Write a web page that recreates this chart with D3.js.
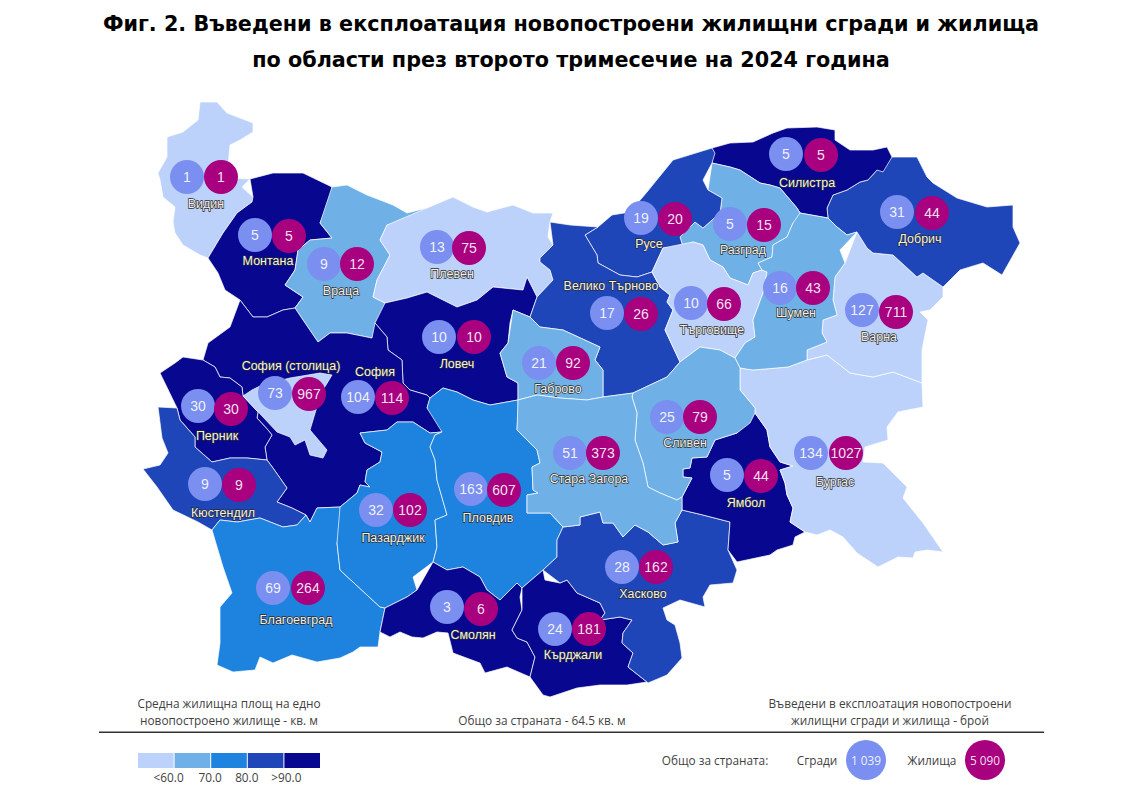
<!DOCTYPE html>
<html><head><meta charset="utf-8">
<script src="https://cdn.jsdelivr.net/npm/d3@7"></script>
<style>html,body{margin:0;padding:0;background:#fff}svg{display:block}</style>
</head><body><svg id="c" width="1145" height="795"></svg>
<script>
const titleLines=["Фиг. 2. Въведени в експлоатация новопостроени жилищни сгради и жилища","по области през второто тримесечие на 2024 година"];
const regionNames=["Видин","Монтана","Враца","Плевен","Ловеч","София","Перник","Кюстендил","Благоевград","Пазарджик","Пловдив","Смолян","Кърджали","Хасково","Ямбол","Бургас","Варна","Добрич","Силистра","Разград","Русе","Велико Търново","Габрово","Търговище","Шумен","Сливен","Стара Загора","София (столица)"];
const buildings=[1,5,9,13,10,104,30,9,69,32,163,3,24,28,5,134,127,31,5,5,19,17,21,10,16,25,51,73];
const dwellings=[1,5,12,75,10,114,30,9,264,102,607,6,181,162,44,1027,711,44,5,15,20,26,92,66,43,79,373,967];
const areaClass=[0,4,1,0,4,4,4,3,2,2,2,4,4,3,4,0,0,3,4,1,3,3,1,0,1,1,1,0];
const classColors=["#BCD2FA","#6FB0E6","#1E82DF","#1E46B9","#07088F"];
const legendTicks=["<60.0","70.0","80.0",">90.0"];
const outlines=[
[[200,102],[217,102],[227,113],[240,118],[253,123],[253,132],[240,140],[230,145],[227,178],[250,179],[242,187],[253,197],[252,202],[237,213],[223,233],[217,243],[208,258],[200,255],[183,245],[175,233],[173,222],[175,207],[163,197],[160,180],[158,173],[167,157],[167,137],[183,132],[198,120],[197,110]],
[[250,179],[273,173],[303,173],[332,187],[332,197],[320,223],[332,238],[310,240],[298,250],[295,270],[285,285],[303,297],[295,308],[283,310],[267,317],[253,317],[240,300],[225,290],[218,273],[208,258],[217,243],[223,233],[237,213],[252,202],[253,197],[242,187]],
[[332,187],[347,185],[367,195],[393,205],[407,213],[427,208],[425,217],[387,225],[380,240],[390,255],[377,280],[373,297],[385,303],[383,323],[372,338],[347,333],[330,333],[318,342],[303,320],[295,308],[303,297],[285,285],[295,270],[298,250],[310,240],[332,238],[320,223],[332,197]],
[[427,208],[453,197],[473,207],[487,212],[513,205],[533,213],[540,213],[553,213],[550,222],[548,237],[553,245],[540,258],[540,262],[550,270],[553,280],[537,297],[527,277],[523,290],[493,287],[477,300],[457,307],[437,297],[427,292],[407,298],[385,303],[373,297],[377,280],[390,255],[380,240],[387,225],[425,217]],
[[385,303],[407,298],[427,292],[437,297],[457,307],[477,300],[493,287],[523,290],[527,277],[537,297],[530,317],[513,310],[510,323],[508,343],[500,353],[507,377],[518,383],[518,400],[490,405],[473,400],[457,392],[443,388],[430,398],[427,395],[410,390],[403,383],[402,360],[388,350],[387,337],[375,323],[383,323]],
[[240,300],[253,317],[267,317],[283,310],[295,308],[303,320],[318,342],[330,333],[347,333],[372,338],[375,323],[387,337],[388,350],[402,360],[403,383],[410,390],[427,395],[430,398],[427,408],[440,423],[442,432],[430,433],[413,422],[397,422],[387,430],[360,433],[365,443],[382,452],[380,462],[367,470],[365,482],[370,487],[360,485],[357,493],[340,507],[317,508],[310,522],[306,515],[292,508],[277,502],[287,488],[273,468],[267,460],[265,447],[272,435],[268,430],[257,418],[258,412],[243,396],[242,387],[230,378],[220,377],[215,367],[203,360],[208,343],[230,327],[240,317]],
[[160,373],[175,363],[183,357],[203,360],[215,367],[220,377],[230,378],[242,387],[243,396],[258,412],[257,418],[268,430],[272,435],[265,447],[267,460],[247,458],[230,458],[212,462],[195,447],[195,437],[180,420],[177,408],[165,387]],
[[158,407],[177,408],[180,420],[195,437],[195,447],[212,462],[230,458],[247,458],[267,460],[273,468],[287,488],[277,502],[292,508],[306,515],[297,525],[283,527],[260,518],[237,522],[220,520],[212,530],[198,522],[173,510],[157,487],[143,469],[160,465],[168,453],[162,438],[153,423]],
[[212,530],[220,520],[237,522],[260,518],[283,527],[297,525],[306,515],[310,522],[317,508],[340,507],[345,523],[337,543],[340,570],[380,607],[385,608],[380,632],[378,647],[360,647],[353,652],[340,658],[317,662],[292,655],[273,663],[260,657],[255,670],[233,672],[217,665],[220,643],[220,607],[232,593],[223,567],[213,547]],
[[340,507],[357,493],[360,485],[370,487],[365,482],[367,470],[380,462],[382,452],[365,443],[360,433],[387,430],[397,422],[413,422],[430,433],[442,432],[435,435],[430,447],[435,460],[437,480],[447,515],[435,520],[437,547],[433,562],[413,577],[417,590],[407,597],[385,608],[380,607],[340,570],[337,543],[345,523]],
[[427,408],[430,398],[443,388],[457,392],[473,400],[490,405],[518,400],[518,413],[517,430],[537,450],[540,463],[532,467],[533,490],[538,493],[527,495],[527,513],[550,513],[563,527],[557,540],[557,557],[543,570],[522,588],[517,583],[500,600],[487,590],[480,577],[463,567],[447,570],[433,562],[437,547],[435,520],[447,515],[437,480],[435,460],[430,447],[435,435],[442,432],[440,423]],
[[433,562],[447,570],[463,567],[480,577],[487,590],[500,600],[517,583],[522,588],[520,597],[522,610],[512,630],[517,638],[527,642],[535,657],[530,677],[507,667],[485,673],[480,663],[453,653],[448,633],[437,632],[423,638],[412,637],[400,632],[390,637],[380,632],[385,608],[407,597],[417,590],[413,577]],
[[522,588],[543,570],[545,580],[560,583],[567,580],[577,593],[600,603],[605,613],[600,620],[620,617],[632,620],[623,633],[622,643],[633,653],[628,667],[647,682],[627,685],[600,685],[577,688],[550,697],[543,695],[530,677],[535,657],[527,642],[517,638],[512,630],[522,610],[520,597]],
[[543,570],[557,557],[557,540],[563,527],[580,525],[580,517],[600,512],[603,523],[613,523],[623,537],[635,525],[648,532],[663,545],[678,542],[675,523],[682,510],[703,515],[730,522],[728,550],[737,570],[733,583],[710,585],[703,597],[705,607],[680,600],[663,608],[667,620],[675,625],[680,643],[682,658],[667,675],[648,683],[647,682],[628,667],[633,653],[622,643],[623,633],[632,620],[620,617],[600,620],[605,613],[600,603],[577,593],[567,580],[560,583],[545,580]],
[[755,413],[767,430],[770,447],[780,462],[793,466],[780,470],[785,483],[787,495],[793,508],[790,522],[805,532],[795,537],[793,545],[777,550],[770,555],[737,562],[728,550],[730,522],[703,515],[682,510],[682,497],[692,478],[683,477],[683,469],[690,468],[692,458],[707,457],[715,440],[737,433],[750,423]],
[[740,368],[753,370],[788,367],[807,360],[827,355],[840,365],[850,373],[873,377],[893,372],[922,383],[923,407],[898,412],[887,427],[888,440],[865,447],[863,462],[883,463],[907,487],[903,498],[923,523],[943,552],[927,550],[915,552],[913,558],[898,557],[878,567],[857,553],[843,537],[830,530],[817,535],[805,532],[790,522],[793,508],[787,495],[785,483],[780,470],[793,466],[780,462],[770,447],[767,430],[755,413],[755,408],[740,390],[740,380]],
[[857,232],[867,248],[873,253],[893,255],[917,277],[923,273],[943,287],[943,297],[930,310],[920,312],[928,320],[922,350],[922,383],[893,372],[873,377],[850,373],[840,365],[827,355],[807,360],[807,350],[827,342],[822,333],[823,320],[837,315],[833,300],[835,277],[845,263],[840,250]],
[[892,157],[917,157],[927,177],[933,183],[957,198],[987,207],[1013,205],[1013,227],[1020,243],[1002,275],[983,263],[960,270],[943,287],[923,273],[917,277],[893,255],[873,253],[867,248],[857,232],[847,235],[837,227],[828,218],[827,208],[833,195],[847,190],[860,182],[868,180],[877,170],[883,172]],
[[712,148],[730,143],[753,142],[773,133],[787,128],[817,127],[835,130],[835,140],[850,150],[873,150],[887,147],[892,157],[883,172],[877,170],[868,180],[860,182],[847,190],[833,195],[827,208],[828,218],[800,213],[797,208],[780,188],[770,185],[760,183],[740,170],[730,167],[712,163],[715,153]],
[[712,163],[730,167],[740,170],[760,183],[770,185],[780,188],[797,208],[800,213],[802,222],[793,223],[787,237],[773,245],[772,257],[758,263],[762,270],[753,273],[748,285],[730,278],[723,267],[710,260],[703,245],[693,242],[683,247],[680,237],[695,222],[703,228],[720,213],[722,198],[708,190],[703,180]],
[[712,148],[715,153],[712,163],[703,180],[708,190],[722,198],[720,213],[703,228],[695,222],[680,237],[683,247],[663,248],[652,272],[637,277],[620,275],[598,263],[597,255],[585,235],[598,227],[612,215],[630,212],[647,192],[673,160],[703,150]],
[[550,222],[570,225],[598,227],[585,235],[597,255],[598,263],[620,275],[637,277],[652,272],[660,287],[670,295],[667,302],[673,310],[665,330],[673,347],[680,362],[667,377],[633,393],[603,397],[603,370],[595,360],[600,347],[563,330],[540,327],[530,317],[537,297],[553,280],[550,270],[540,262],[540,258],[553,245],[548,237]],
[[513,310],[530,317],[540,327],[563,330],[600,347],[595,360],[603,370],[603,397],[587,400],[560,398],[537,395],[518,400],[518,383],[507,377],[500,353],[508,343],[510,323]],
[[693,242],[703,245],[710,260],[723,267],[730,278],[748,285],[753,273],[762,270],[767,272],[763,293],[753,320],[755,337],[745,343],[735,358],[720,350],[700,347],[680,362],[673,347],[665,330],[673,310],[667,302],[670,295],[660,287],[652,272],[663,248],[683,247]],
[[800,213],[828,218],[837,227],[847,235],[857,232],[840,250],[845,263],[835,277],[833,300],[837,315],[823,320],[822,333],[827,342],[807,350],[807,360],[788,367],[753,370],[740,368],[735,358],[745,343],[755,337],[753,320],[763,293],[767,272],[762,270],[758,263],[772,257],[773,245],[787,237],[793,223],[802,222]],
[[740,368],[735,358],[720,350],[700,347],[680,362],[667,377],[633,393],[632,397],[637,413],[635,440],[643,463],[648,487],[660,493],[677,500],[682,497],[692,478],[683,477],[683,469],[690,468],[692,458],[707,457],[715,440],[737,433],[750,423],[755,413],[755,408],[740,390],[740,380]],
[[518,400],[537,395],[560,398],[587,400],[603,397],[633,393],[632,397],[637,413],[635,440],[643,463],[648,487],[660,493],[677,500],[682,497],[682,510],[675,523],[678,542],[663,545],[648,532],[635,525],[623,537],[613,523],[603,523],[600,512],[580,517],[580,525],[563,527],[550,513],[527,513],[527,495],[538,493],[533,490],[532,467],[540,463],[537,450],[517,430],[518,413]],
[[243,396],[252,390],[262,385],[290,378],[320,373],[332,375],[320,395],[316,410],[310,430],[327,450],[323,458],[310,455],[305,440],[295,445],[290,437],[277,432],[263,417],[258,412]]
];
const buildingAnchors=[[187,177],[255,235],[324,264],[437,247],[439,337],[358,397],[198,406],[205,484],[273,588],[376,510],[471,489],[447,607],[555,629],[622,567],[727,475],[811,453],[862,310],[897,212],[786,154],[730,224],[641,218],[607,313],[539,363],[691,303],[780,288],[667,417],[570,453],[275,393]];
const dwellingAnchors=[[221,177],[289,236],[357,264],[469,248],[474,337],[392,398],[231,409],[239,485],[308,588],[410,510],[504,490],[481,609],[589,629],[656,567],[761,476],[846,453],[896,312],[932,213],[821,155],[764,225],[675,219],[641,314],[573,363],[724,304],[813,288],[700,417],[603,453],[309,394]];
const labelAnchors=[[206,204],[268,261],[341,291],[452,274],[457,364],[375,372],[217,436],[223,513],[296,620],[393,538],[488,518],[473,635],[573,655],[643,594],[746,503],[835,482],[879,337],[920,239],[807,183],[743,250],[649,244],[611,286],[558,389],[712,330],[796,313],[685,443],[589,479],[291,366]];
const captionLeft=["Средна жилищна площ на едно","новопостроено жилище - кв. м"];
const captionMid="Общо за страната - 64.5 кв. м";
const captionRight=["Въведени в експлоатация новопостроени","жилищни сгради и жилища - брой"];
const totalLabel="Общо за страната:";
const totalNames=["Сгради","Жилища"];
const totalValues=["1 039","5 090"];

const svg=d3.select("#c");
const BLD="#7A8FF0",DWL="#A8007F",GREY="#3f3f3f";
svg.selectAll("text.title").data(titleLines).join("text").attr("class","title")
 .attr("x",571).attr("y",(d,i)=>30.5+i*36).attr("text-anchor","middle")
 .attr("font-family","DejaVu Sans").attr("font-weight","bold").attr("font-size",20.72).attr("fill","#000").text(d=>d);

const proj=d3.geoIdentity();
const path=d3.geoPath(proj);
const color=d3.scaleOrdinal(d3.range(classColors.length),classColors);
const features=regionNames.map((n,i)=>({type:"Feature",properties:{name:n,cls:areaClass[i]},geometry:{type:"Polygon",coordinates:[outlines[i]]}}));
const g=svg.append("g");
g.selectAll("path").data(features).join("path").attr("d",path)
 .attr("fill",d=>color(d.properties.cls)).attr("stroke","#fff").attr("stroke-width",0.7).attr("stroke-linejoin","round");

function bubbles(anchors,vals,fill){
 const s=g.append("g").selectAll("g").data(vals).join("g").attr("transform",(d,i)=>`translate(${proj(anchors[i])})`);
 s.append("circle").attr("r",17).attr("fill",fill);
 s.append("text").attr("text-anchor","middle").attr("dy","0.36em").attr("fill","#fff").attr("fill-opacity",0.9)
  .attr("font-family","Liberation Sans").attr("font-size",14).text(d=>d);
}
bubbles(buildingAnchors,buildings,BLD);
bubbles(dwellingAnchors,dwellings,DWL);
g.append("g").selectAll("text").data(regionNames).join("text")
 .attr("transform",(d,i)=>`translate(${proj(labelAnchors[i])})`).attr("text-anchor","middle").attr("dy","0.35em")
 .attr("font-family","Liberation Sans").attr("font-size",12.5).attr("fill","#f2f2ea")
 .attr("stroke","#2a2a2a").attr("stroke-width",1.3).attr("paint-order","stroke").text(d=>d);

const cap=(t,x,y,fs)=>svg.append("text").attr("x",x).attr("y",y).attr("text-anchor","middle").attr("font-family","Open Sans").attr("font-size",fs||11.8).attr("fill",GREY).text(t);
captionLeft.forEach((t,i)=>cap(t,229,708+i*17));
cap(captionMid,542,725);
captionRight.forEach((t,i)=>cap(t,890,708+i*17));
svg.append("rect").attr("x",99).attr("y",731.5).attr("width",945).attr("height",1.5).attr("fill","#333");

const lx=d3.scaleBand().domain(d3.range(classColors.length)).range([138,321]);
svg.append("g").selectAll("rect").data(classColors).join("rect").attr("x",(d,i)=>lx(i)).attr("y",753).attr("width",lx.bandwidth()-1).attr("height",15).attr("fill",d=>d);
legendTicks.forEach((t,i)=>cap(t,lx(i+1)-(i==0?6:(i==3?-2:1)),782));

cap(totalLabel,715,765);
cap(totalNames[0],817,765);
cap(totalNames[1],932,765);
[[866,BLD],[985,DWL]].forEach((c,i)=>{
 svg.append("circle").attr("cx",c[0]).attr("cy",760).attr("r",20).attr("fill",c[1]);
 svg.append("text").attr("x",c[0]).attr("y",765).attr("text-anchor","middle").attr("font-family","Open Sans").attr("font-size",11.8).attr("fill","#fff").attr("fill-opacity",.9).text(totalValues[i]);
});
</script></body></html>
